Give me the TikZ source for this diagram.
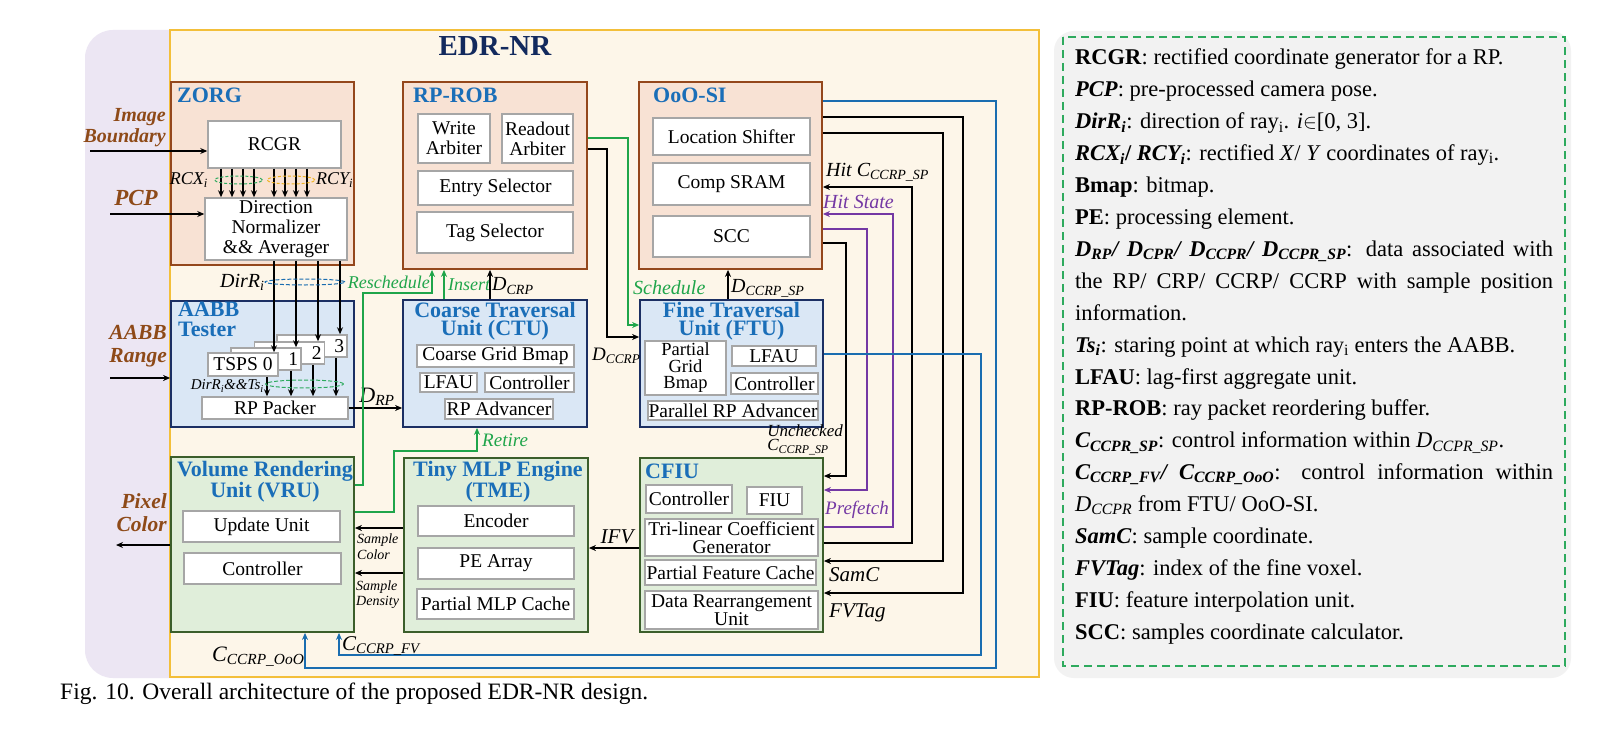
\documentclass[tikz,border=0pt]{standalone}
\usepackage{fontspec}
\setmainfont{Liberation Serif}
\usetikzlibrary{arrows.meta}
\definecolor{lav}{HTML}{ECE6F3}
\definecolor{cream}{HTML}{FDF6E9}
\definecolor{gold}{HTML}{F3BF3A}
\definecolor{peachF}{HTML}{F8E2D4}
\definecolor{brownB}{HTML}{94471C}
\definecolor{blueF}{HTML}{DAE7F5}
\definecolor{navyB}{HTML}{1B2F63}
\definecolor{greenF}{HTML}{E0EEDA}
\definecolor{greenB}{HTML}{3B5E2B}
\definecolor{grayB}{HTML}{A6A6A6}
\definecolor{ttlblue}{HTML}{1A6EB8}
\definecolor{lblbrown}{HTML}{8E4A18}
\definecolor{gline}{HTML}{1FA54A}
\definecolor{pline}{HTML}{7438A4}
\definecolor{bline}{HTML}{1A6DB0}
\definecolor{navyT}{HTML}{132A5E}
\definecolor{panel}{HTML}{F2F2F2}
\definecolor{dashg}{HTML}{2EAA5E}
\definecolor{orangeD}{HTML}{F0B323}
\newcommand\varsub[2]{\textit{#1}\textsubscript{\textit{#2}}}
\begin{document}
\begin{tikzpicture}[x=1pt,y=-1pt,
 pbox/.style={draw=brownB, fill=peachF, line width=1.8pt, inner sep=0pt},
 bbox/.style={draw=navyB, fill=blueF, line width=1.8pt, inner sep=0pt},
 gbox/.style={draw=greenB, fill=greenF, line width=1.8pt, inner sep=0pt},
 wbox/.style={draw=grayB, fill=white, line width=1.5pt, inner sep=0pt, align=center, font=\fontsize{19.5}{20}\selectfont},
 ttl/.style={inner sep=0pt, text=ttlblue, align=center, font=\bfseries\fontsize{22}{18}\selectfont},
 arr/.style={-{Stealth[length=7pt,width=6pt]}},
 wire/.style={line width=1.6pt},
 lbl/.style={inner sep=0pt, font=\itshape\fontsize{20}{20}\selectfont},
 slbl/.style={inner sep=0pt, align=left, font=\itshape\fontsize{14}{16}\selectfont},
 blbl/.style={inner sep=0pt, align=right, text=lblbrown, font=\bfseries\itshape\fontsize{20}{21}\selectfont},
 leg/.style={anchor=base west, inner sep=0pt, font=\fontsize{22.5}{26}\selectfont}]
\useasboundingbox (0,0) rectangle (1624,738);
\fill[white] (0,0) rectangle (1624,738);
% backgrounds
\fill[lav, rounded corners=28pt] (85,30) rectangle (600,678);
\draw[gold, fill=cream, line width=1.8pt] (170,30) rectangle (1039,677);
\node[inner sep=0pt, text=navyT, font=\bfseries\fontsize{29}{30}\selectfont] (edr) at (495,46) {EDR-NR};
\fill[panel, rounded corners=20pt] (1054,31) rectangle (1571,678);
\draw[dashg, dashed, dash pattern=on 8pt off 5pt, line width=1.6pt] (1063,37) rectangle (1565,666);

% ZORG
\node[pbox, minimum width=183pt, minimum height=183pt] (zorg) at (262.5,173.5) {};
\node[ttl, anchor=west] (zorgt) at (177,95) {ZORG};
\node[wbox, minimum width=133pt, minimum height=47pt] (rcgr) at (274.5,144.5) {RCGR};
\node[wbox, minimum width=142pt, minimum height=62pt] (dn) at (276,229) {Direction\\Normalizer\\\&\& Averager};
% RP-ROB
\node[pbox, minimum width=184pt, minimum height=187pt] (rob) at (495,175.5) {};
\node[ttl, anchor=west] (robt) at (413,95) {RP-ROB};
\node[wbox, minimum width=72pt, minimum height=49pt] (wa) at (454,138.5) {Write\\Arbiter};
\node[wbox, minimum width=71pt, minimum height=49pt] (ra) at (537.5,138.5) {Readout\\Arbiter};
\node[wbox, minimum width=155pt, minimum height=34pt] (es) at (495.5,188) {Entry Selector};
\node[wbox, minimum width=156pt, minimum height=41pt] (ts) at (495,232.5) {Tag Selector};
% OoO-SI
\node[pbox, minimum width=183pt, minimum height=187pt] (ooo) at (730.5,175.5) {};
\node[ttl, anchor=west] (ooot) at (653,95) {OoO-SI};
\node[wbox, minimum width=157pt, minimum height=37pt] (ls) at (731.5,136.5) {Location Shifter};
\node[wbox, minimum width=157pt, minimum height=42pt] (cs) at (731.5,184) {Comp SRAM};
\node[wbox, minimum width=157pt, minimum height=41pt] (scc) at (731.5,236.5) {SCC};
% AABB
\node[bbox, minimum width=183pt, minimum height=126pt] (aabb) at (262.5,364) {};
\node[ttl, anchor=north west, align=left, font=\bfseries\fontsize{22}{20}\selectfont] (aabbt) at (178,302) {AABB\\Tester};
\node[wbox, minimum width=70pt, minimum height=22pt, inner xsep=3pt, text width=64pt, align=right] (t3) at (312,346) {3};
\node[wbox, minimum width=70pt, minimum height=22pt, inner xsep=3pt, text width=64pt, align=right] (t2) at (289.5,353) {2};
\node[wbox, minimum width=70pt, minimum height=22pt, inner xsep=3pt, text width=64pt, align=right] (t1) at (266,359) {1};
\node[wbox, minimum width=70pt, minimum height=23pt] (t0) at (243,364.5) {TSPS 0};
\node[wbox, minimum width=146pt, minimum height=22pt] (rpp) at (275,408) {RP Packer};
% CTU
\node[bbox, minimum width=184pt, minimum height=127pt] (ctu) at (495,363.5) {};
\node[ttl, anchor=north] (ctut) at (495,302) {Coarse Traversal\\Unit (CTU)};
\node[wbox, minimum width=157pt, minimum height=22pt] (cgb) at (495.5,356) {Coarse Grid Bmap};
\node[wbox, minimum width=57pt, minimum height=19pt] (lfau1) at (448.5,382.5) {LFAU};
\node[wbox, minimum width=89pt, minimum height=19pt] (ctrl1) at (529.5,382.5) {Controller};
\node[wbox, minimum width=108pt, minimum height=20pt] (rpa) at (499,409) {RP Advancer};
% FTU
\node[bbox, minimum width=183pt, minimum height=127pt] (ftu) at (731.5,363.5) {};
\node[ttl, anchor=north] (ftut) at (731.5,302) {Fine Traversal\\Unit (FTU)};
\node[wbox, minimum width=81pt, minimum height=54pt, font=\fontsize{18.5}{16.5}\selectfont] (pgb) at (685.5,368) {Partial\\Grid\\Bmap};
\node[wbox, minimum width=84pt, minimum height=20pt] (lfau2) at (774,356) {LFAU};
\node[wbox, minimum width=87pt, minimum height=21pt] (ctrl2) at (774.5,383.5) {Controller};
\node[wbox, minimum width=170pt, minimum height=19pt] (prpa) at (733,410.5) {Parallel RP Advancer};
% VRU
\node[gbox, minimum width=183pt, minimum height=175pt] (vru) at (262.5,544.5) {};
\node[ttl, anchor=north] (vrut) at (265,461) {Volume Rendering\\Unit (VRU)};
\node[wbox, minimum width=157pt, minimum height=31pt] (uu) at (261.5,526.5) {Update Unit};
\node[wbox, minimum width=157pt, minimum height=31pt] (ctrl3) at (262.5,568.5) {Controller};
% TME
\node[gbox, minimum width=184pt, minimum height=174pt] (tme) at (496,545) {};
\node[ttl, anchor=north] (tmet) at (498,461) {Tiny MLP Engine\\(TME)};
\node[wbox, minimum width=156pt, minimum height=30pt] (enc) at (496,521) {Encoder};
\node[wbox, minimum width=156pt, minimum height=31pt] (pea) at (496,563.5) {PE Array};
\node[wbox, minimum width=157pt, minimum height=30pt] (pmc) at (495.5,604) {Partial MLP Cache};
% CFIU
\node[gbox, minimum width=183pt, minimum height=174pt] (cfiu) at (731.5,545) {};
\node[ttl, anchor=west] (cfiut) at (645,471) {CFIU};
\node[wbox, minimum width=86pt, minimum height=28pt] (ctrl4) at (689,499) {Controller};
\node[wbox, minimum width=55pt, minimum height=27pt] (fiu) at (774.5,500.5) {FIU};
\node[wbox, minimum width=173pt, minimum height=37pt, font=\fontsize{19.5}{18}\selectfont] (tri) at (731.5,537.5) {Tri-linear Coefficient\\Generator};
\node[wbox, minimum width=171pt, minimum height=25pt] (pfc) at (730.5,572.5) {Partial Feature Cache};
\node[wbox, minimum width=173pt, minimum height=38pt, font=\fontsize{19.5}{18}\selectfont] (dru) at (731.5,610) {Data Rearrangement\\Unit};

% external inputs / outputs
\node[blbl, anchor=east] (ib) at (166,128) {Image\\Boundary};
\coordinate (ibs) at (90,151);
\draw[wire,arr] (ibs) -- (rcgr.west |- ibs);
\node[blbl, anchor=center, font=\bfseries\itshape\fontsize{23}{23}\selectfont] (pcp) at (136,198) {PCP};
\coordinate (pcps) at (110,214);
\draw[wire,arr] (pcps) -- (dn.west |- pcps);
\node[blbl, anchor=east, font=\bfseries\itshape\fontsize{21.5}{23}\selectfont] (ar) at (167,346) {AABB\\Range};
\coordinate (ars) at (110,378);
\draw[wire,arr] (ars) -- (aabb.west |- ars);
\node[blbl, anchor=east, font=\bfseries\itshape\fontsize{21.5}{23}\selectfont] (pc) at (167,513) {Pixel\\Color};
\coordinate (pce) at (116,545);
\draw[wire,arr] (vru.west |- pce) -- (pce);

% RCGR -> DN
\foreach \x in {221,232,243,254,274,285,296,307}
  \draw[wire,arr] (\x,0 |- rcgr.south) -- (\x,0 |- dn.north);
\draw[dashg, dashed, dash pattern=on 3pt off 2pt, line width=1pt] (238.5,180) ellipse [x radius=24pt, y radius=4pt];
\draw[orangeD, dashed, dash pattern=on 3pt off 2pt, line width=1pt] (291,180) ellipse [x radius=24pt, y radius=4pt];
\node[lbl, anchor=east, font=\itshape\fontsize{18}{18}\selectfont] (rcx) at (208,180) {\varsub{RCX}{i}};
\node[lbl, anchor=west, font=\itshape\fontsize{18}{18}\selectfont] (rcy) at (316,180) {\varsub{RCY}{i}};

% DN -> TSPS
\draw[wire,arr] (274,0 |- dn.south) -- (274,0 |- t0.north);
\draw[wire,arr] (296,0 |- dn.south) -- (296,0 |- t1.north);
\draw[wire,arr] (318,0 |- dn.south) -- (318,0 |- t2.north);
\draw[wire,arr] (340,0 |- dn.south) -- (340,0 |- t3.north);
\draw[bline, dashed, dash pattern=on 4pt off 2pt, line width=1pt] (305,282) ellipse [x radius=40pt, y radius=3pt];
\node[lbl, anchor=west] (dirr) at (220,282) {\varsub{DirR}{i}};
% TSPS -> RP packer
\draw[wire,arr] (267,0 |- t0.south) -- (267,0 |- rpp.north);
\draw[wire,arr] (291,0 |- t1.south) -- (291,0 |- rpp.north);
\draw[wire,arr] (313,0 |- t2.south) -- (313,0 |- rpp.north);
\draw[wire,arr] (336,0 |- t3.south) -- (336,0 |- rpp.north);
\draw[dashg, dashed, dash pattern=on 4pt off 2pt, line width=1pt] (304.5,384) ellipse [x radius=39pt, y radius=4pt];
\node[slbl, anchor=east, font=\itshape\fontsize{15}{15}\selectfont] (dirts) at (264,386) {\varsub{DirR}{i}\&\&\varsub{Ts}{i}};

% D_RP
\draw[wire,arr] (rpp.east) -- (ctu.west |- rpp.east);
\node[lbl, font=\itshape\fontsize{22}{22}\selectfont] (drp) at (377,397) {\varsub{D}{RP}};

% Reschedule (VRU -> RP-ROB)
\coordinate (rs1) at (363,485);
\draw[gline, wire, arr] (vru.east |- rs1) -- (rs1) -- (363,293) -- (432,293) -- (432,0 |- rob.south);
\node[lbl, text=gline, anchor=east, font=\itshape\fontsize{18}{18}\selectfont] (resch) at (430,282) {Reschedule};
% Insert
\draw[gline, wire, arr] (444,0 |- ctu.north) -- (444,0 |- rob.south);
\node[lbl, text=gline, anchor=west, font=\itshape\fontsize{18}{18}\selectfont] (ins) at (448,285) {Insert};
% D_CRP
\draw[wire, arr] (490,0 |- ctu.north) -- (490,0 |- rob.south);
\node[lbl, anchor=west] (dcrp) at (492,286) {\varsub{D}{CRP}};
% Schedule
\coordinate (sc1) at (628,138);
\draw[gline, wire, arr] (rob.east |- sc1) -- (sc1) -- (628,325) -- (ftu.west |- 0,325);
\node[lbl, text=gline, anchor=west] (sched) at (633,288) {Schedule};
% D_CCRP
\coordinate (dc1) at (607,149);
\draw[wire, arr] (rob.east |- dc1) -- (dc1) -- (607,337) -- (ftu.west |- 0,337);
\node[lbl, anchor=west, font=\itshape\fontsize{19}{19}\selectfont] (dccrp) at (592,356) {\varsub{D}{CCRP}};
% D_CCRP_SP
\draw[wire, arr] (728,0 |- ftu.north) -- (728,0 |- ooo.south);
\node[lbl, anchor=west] (dccrpsp) at (731,288) {\varsub{D}{CCRP\_SP}};

% Retire (VRU -> CTU)
\coordinate (rt1) at (394,512);
\draw[gline, wire, arr] (vru.east |- rt1) -- (rt1) -- (394,451) -- (477,451) -- (477,0 |- ctu.south);
\node[lbl, text=gline, anchor=west, font=\itshape\fontsize{19}{19}\selectfont] (ret) at (482,440) {Retire};

% TME -> VRU
\draw[wire, arr] (tme.west |- 0,528) -- (vru.east |- 0,528);
\draw[wire, arr] (tme.west |- 0,573) -- (vru.east |- 0,573);
\node[slbl, anchor=west] (scol) at (357,547) {Sample\\Color};
\node[slbl, anchor=west, font=\itshape\fontsize{14}{15}\selectfont] (sden) at (356,595) {Sample\\Density};
% IFV
\draw[wire, arr] (cfiu.west |- 0,548) -- (tme.east |- 0,548);
\node[lbl, font=\itshape\fontsize{21}{21}\selectfont] (ifv) at (617,537) {IFV};

% OoO-SI <-> CFIU wires
\coordinate (w1) at (963,117);
\draw[wire, arr] (ooo.east |- w1) -- (w1) -- (963,593) -- (cfiu.east |- 0,593);
\coordinate (w2) at (943,133);
\draw[wire, arr] (ooo.east |- w2) -- (w2) -- (943,561) -- (cfiu.east |- 0,561);
\coordinate (w3) at (912,543);
\draw[wire, arr] (cfiu.east |- w3) -- (w3) -- (912,187) -- (ooo.east |- 0,187);
\coordinate (w4) at (893,527);
\draw[pline, wire, arr] (cfiu.east |- w4) -- (w4) -- (893,214) -- (ooo.east |- 0,214);
\coordinate (w5) at (867,229);
\draw[pline, wire, arr] (ooo.east |- w5) -- (w5) -- (867,490) -- (cfiu.east |- 0,490);
\coordinate (w6) at (846,243);
\draw[wire, arr] (ooo.east |- w6) -- (w6) -- (846,476) -- (cfiu.east |- 0,476);
% blue wires to VRU
\coordinate (b1) at (996,101);
\draw[bline, wire, arr] (ooo.east |- b1) -- (b1) -- (996,668) -- (305,668) -- (305,0 |- vru.south);
\coordinate (b2) at (981,354);
\draw[bline, wire, arr] (ftu.east |- b2) -- (b2) -- (981,655) -- (339,655) -- (339,0 |- vru.south);

\node[lbl, anchor=west] (hitc) at (826,172) {Hit \varsub{C}{CCRP\_SP}};
\node[lbl, anchor=west, text=pline] (hits) at (823,202) {Hit State};
\node[lbl, anchor=west, text=pline, font=\itshape\fontsize{19}{19}\selectfont] (pref) at (825,510) {Prefetch};
\node[lbl, anchor=east, font=\itshape\fontsize{17}{14}\selectfont, align=left] (unch) at (843,440) {Unchecked\\\varsub{C}{CCRP\_SP}};
\node[lbl, anchor=west, font=\itshape\fontsize{21}{21}\selectfont] (samc) at (829,575) {SamC};
\node[lbl, anchor=west, font=\itshape\fontsize{21}{21}\selectfont] (fvt) at (829,613) {FVTag};
\node[lbl, anchor=west, font=\itshape\fontsize{22}{22}\selectfont] (cooo) at (212,657) {\varsub{C}{CCRP\_OoO}};
\node[lbl, anchor=west, font=\itshape\fontsize{21}{21}\selectfont] (cfv) at (342,646) {\varsub{C}{CCRP\_FV}};

% caption
\node[inner sep=0pt, anchor=west, font=\fontsize{23.5}{24}\selectfont] (cap) at (60,694) {Fig. 10. Overall architecture of the proposed EDR-NR design.};

% legend
\node[leg] (l1) at (1075,65) {\textbf{RCGR}: rectified coordinate generator for a RP.};
\node[leg] (l2) at (1075,96.9) {\textbf{\textit{PCP}}: pre-processed camera pose.};
\node[leg] (l3) at (1075,128.8) {\textbf{\textit{DirR\textsubscript{i}}}: direction of ray\textsubscript{i}. \textit{i}$\in$[0, 3].};
\node[leg] (l4) at (1075,160.7) {\textbf{\textit{RCX\textsubscript{i}}/ \textit{RCY\textsubscript{i}}}: rectified \textit{X}/ \textit{Y} coordinates of ray\textsubscript{i}.};
\node[leg] (l5) at (1075,192.6) {\textbf{Bmap}: bitmap.};
\node[leg] (l6) at (1075,224.5) {\textbf{PE}: processing element.};
\node[leg] (l7) at (1075,256.4) {\makebox[478pt][s]{\textbf{\textit{D\textsubscript{RP}/ D\textsubscript{CPR}/ D\textsubscript{CCPR}/ D\textsubscript{CCPR\_SP}}}: data associated with}};
\node[leg] (l8) at (1075,288.3) {\makebox[478pt][s]{the RP/ CRP/ CCRP/ CCRP with sample position}};
\node[leg] (l9) at (1075,320.2) {information.};
\node[leg] (l10) at (1075,352.1) {\textbf{\textit{Ts\textsubscript{i}}}: staring point at which ray\textsubscript{i} enters the AABB.};
\node[leg] (l11) at (1075,384) {\textbf{LFAU}: lag-first aggregate unit.};
\node[leg] (l12) at (1075,415.9) {\textbf{RP-ROB}: ray packet reordering buffer.};
\node[leg] (l13) at (1075,447.8) {\textbf{\textit{C\textsubscript{CCPR\_SP}}}: control information within \textit{D\textsubscript{CCPR\_SP}}.};
\node[leg] (l14) at (1075,479.7) {\makebox[478pt][s]{\textbf{\textit{C\textsubscript{CCRP\_FV}/ C\textsubscript{CCRP\_OoO}}}: control information within}};
\node[leg] (l15) at (1075,511.6) {\textit{D\textsubscript{CCPR}} from FTU/ OoO-SI.};
\node[leg] (l16) at (1075,543.5) {\textbf{\textit{SamC}}: sample coordinate.};
\node[leg] (l17) at (1075,575.4) {\textbf{\textit{FVTag}}: index of the fine voxel.};
\node[leg] (l18) at (1075,607.3) {\textbf{FIU}: feature interpolation unit.};
\node[leg] (l19) at (1075,639.2) {\textbf{SCC}: samples coordinate calculator.};
\end{tikzpicture}
\end{document}
